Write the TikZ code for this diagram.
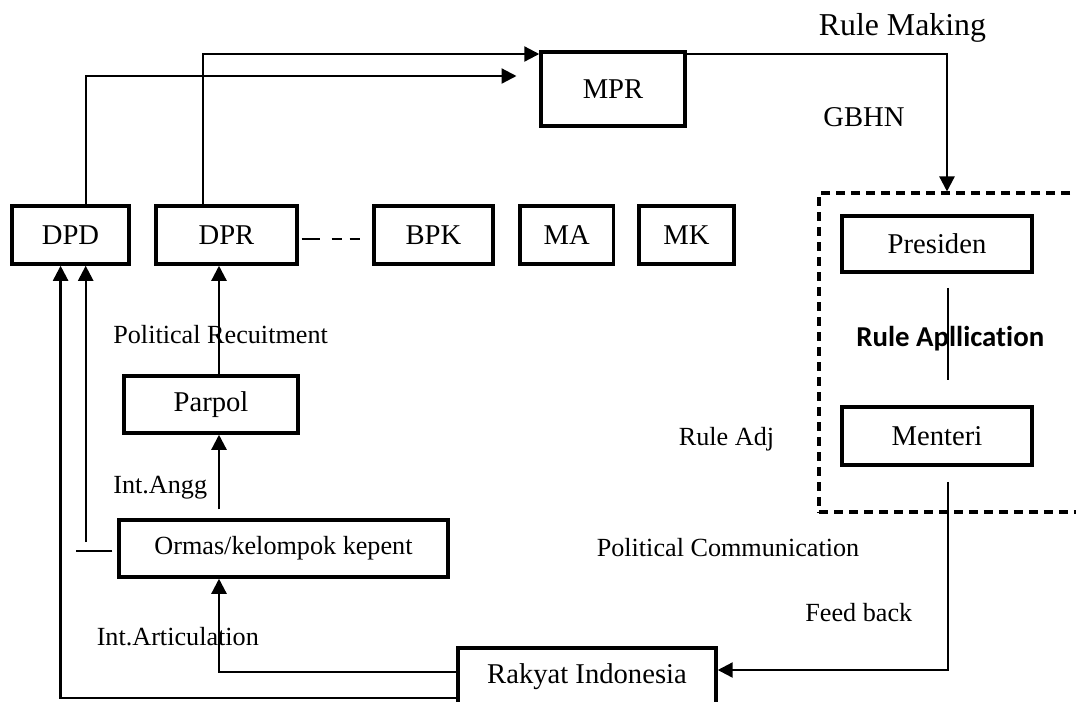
\documentclass[tikz,border=0pt]{standalone}
\usepackage{fontspec}
\setmainfont{Liberation Serif}
\newfontfamily\calibri[Ligatures=NoCommon]{Carlito}
\usetikzlibrary{arrows.meta}

\begin{document}
\begin{tikzpicture}[x=0.02cm,y=-0.02cm,
  box/.style={draw,line width=2pt,inner sep=0pt,minimum height=1.16cm,font=\fontsize{16.3}{18}\selectfont},
  lbl/.style={inner sep=0pt,anchor=base west,font=\fontsize{14.9}{17}\selectfont},
  con/.style={line width=1.3pt},
  arr/.style={con,-{Triangle[length=0.3cm,width=0.3cm]}}]
  \clip (0,0) rectangle (1076,701);

  \node[box,minimum width=2.34cm] (dpd) at (70.5,235) {DPD};
  \node[box,minimum width=2.82cm] (dpr) at (226.5,235) {DPR};
  \node[box,minimum width=2.38cm] (bpk) at (433.5,235) {BPK};
  \node[box,minimum width=1.87cm] (ma) at (566.7,235) {MA};
  \node[box,minimum width=1.9cm] (mk) at (686.5,235) {MK};
  \node[box,minimum width=2.88cm,minimum height=1.48cm] (mpr) at (613,89) {MPR};
  \node[box,minimum width=3.8cm,minimum height=1.12cm] (pres) at (937,244) {Presiden};
  \node[box,minimum width=3.8cm] (ment) at (937,436) {Menteri};
  \node[box,minimum width=3.48cm,minimum height=1.14cm] (parpol) at (211,404.5) {Parpol};
  \node[box,minimum width=6.58cm,minimum height=1.14cm,font=\fontsize{14.9}{17}\selectfont] (ormas) at (283.5,548.5) {Ormas/kelompok kepent};
  \node[box,minimum width=5.16cm] (rakyat) at (587,677) {Rakyat Indonesia};
  \node[draw,line width=2pt,dash pattern=on 0.18cm off 0.12cm,minimum width=5.62cm,minimum height=6.38cm] (exec) at (959.5,352.7) {};

  \node[lbl,font=\fontsize{18.1}{20}\selectfont] (rmake) at (818.6,35) {Rule Making};
  \node[lbl,font=\fontsize{16.3}{18}\selectfont] (gbhn) at (823,126) {GBHN};
  \node[lbl] (recruit) at (113,343.3) {Political Recuitment};
  \node[lbl] (angg) at (113,493.3) {Int.Angg};
  \node[lbl] (artic) at (96.4,645) {Int.Articulation};
  \node[lbl] (radj) at (678.5,445) {Rule Adj};
  \node[lbl] (pcomm) at (596.4,556.7) {Political Communication};
  \node[lbl] (feed) at (805,621.7) {Feed back};
  \node[lbl,font=\calibri\bfseries\fontsize{16.4}{18}\selectfont] (rapp) at (856,346.7) {Rule Apllication};

  \coordinate (dpdtip) at (516.5,76);
  \coordinate (ormleft) at (76,551);
  \coordinate (ormup) at (85.7,542);

  \draw[arr] (85.7,0 |- dpd.north) |- (dpdtip);
  \draw[arr] (203,0 |- dpr.north) |- (mpr.west |- 0,54);
  \draw[arr] (mpr.east |- 0,54) -| (947,0 |- exec.north);
  \draw[con,line width=0.6pt,shorten <=0.28cm,shorten >=0.5cm] (948,0 |- pres.south) -- (948,0 |- ment.north);
  \draw[arr,shorten <=0.3cm] (948,0 |- ment.south) |- (rakyat.east |- 0,670);
  \draw[arr] (rakyat.west |- 0,672) -| (219,0 |- ormas.south);
  \draw[arr] (rakyat.west |- 0,698) -| (60.6,0 |- dpd.south);
  \draw[con,shorten <=0.1cm] (ormas.west |- 0,551) -- (ormleft);
  \draw[arr] (ormup) -- (85.7,0 |- dpd.south);
  \draw[arr,shorten <=0.18cm] (219,0 |- ormas.north) -- (219,0 |- parpol.south);
  \draw[arr] (219,0 |- parpol.north) -- (219,0 |- dpr.south);
  \draw[con,dash pattern=on 0.36cm off 0.24cm on 0.2cm off 0.16cm on 0.3cm off 0.2cm,shorten <=0.06cm,shorten >=0.24cm] (dpr.east |- 0,239) -- (bpk.west |- 0,239);
\end{tikzpicture}
\end{document}
